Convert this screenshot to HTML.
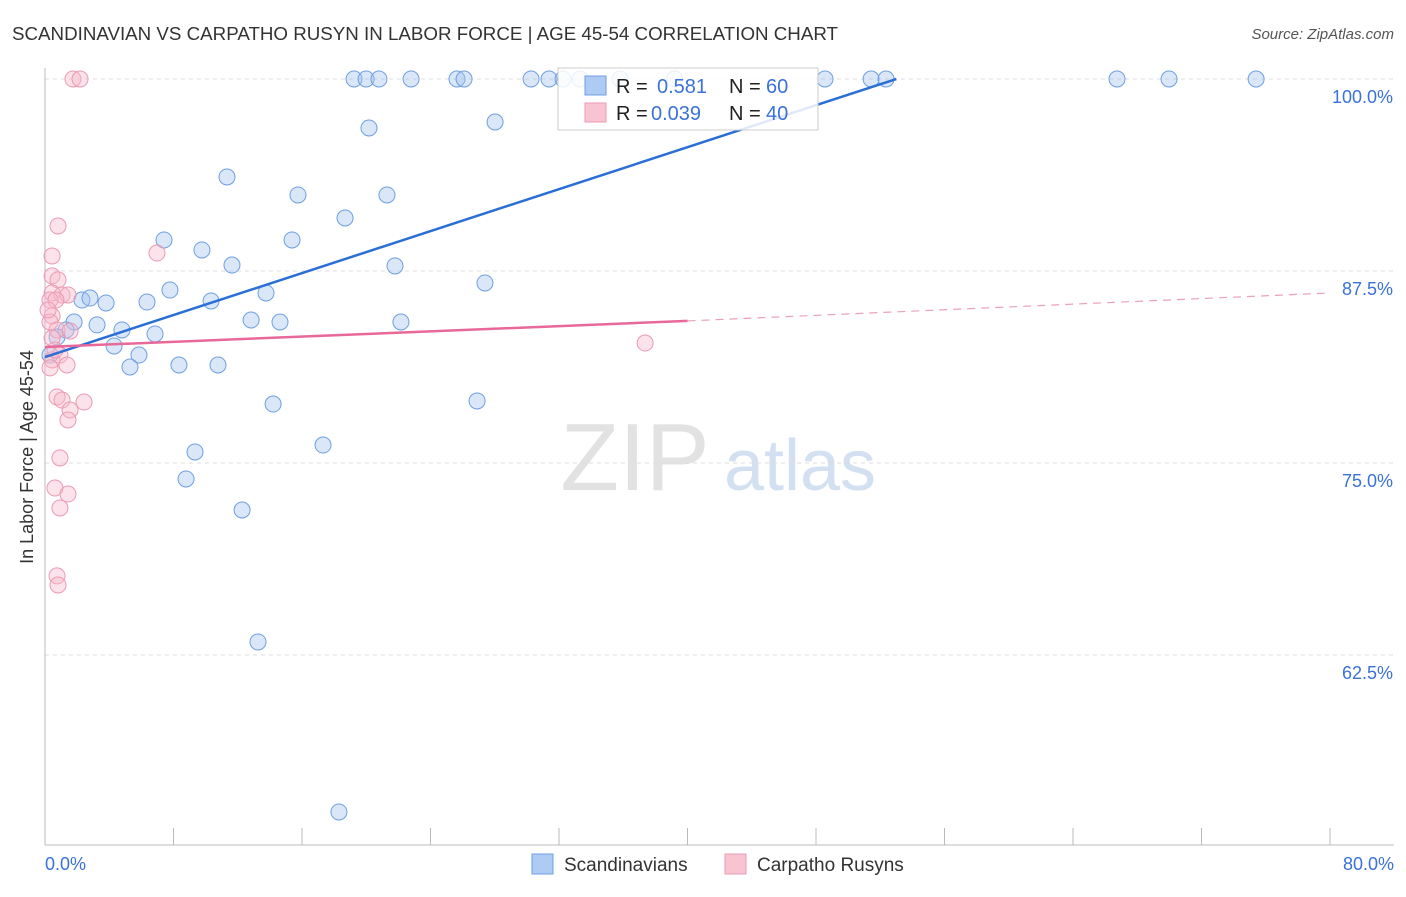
<!DOCTYPE html>
<html><head><meta charset="utf-8"><style>
body{margin:0;background:#fff;font-family:"Liberation Sans",sans-serif;}
svg text{font-family:"Liberation Sans",sans-serif;}
</style></head><body>
<svg id="chart" width="1406" height="892">
<text x="12" y="40" font-size="18" fill="#333" textLength="826" lengthAdjust="spacingAndGlyphs">SCANDINAVIAN VS CARPATHO RUSYN IN LABOR FORCE | AGE 45-54 CORRELATION CHART</text>
<text x="1394" y="39" font-size="15" fill="#555" font-style="italic" text-anchor="end">Source: ZipAtlas.com</text>
<text x="33" y="457" font-size="18" fill="#333" text-anchor="middle" transform="rotate(-90 33 457)">In Labor Force | Age 45-54</text>
<g><text x="635" y="490" font-size="96" fill="#e2e2e2" font-family="Liberation Serif" text-anchor="middle">ZIP</text><text x="800" y="490" font-size="72" fill="#d2e0f2" text-anchor="middle">atlas</text></g>
<g id="grid"></g><g id="axes"></g><g id="marks"></g>
<g>
<rect x="558" y="68" width="260" height="62" fill="#fff" fill-opacity="0.85" stroke="#ccc"/>
<rect x="585" y="76" width="21" height="19" fill="#aecbf3" stroke="#6f9fe0"/>
<rect x="585" y="103" width="21" height="19" fill="#f9c4d2" stroke="#eb9ab0"/>
<text x="616" y="93" font-size="20" fill="#222">R =</text><text x="657" y="93" font-size="20" fill="#3a72d8">0.581</text>
<text x="729" y="93" font-size="20" fill="#222">N =</text><text x="766" y="93" font-size="20" fill="#3a72d8">60</text>
<text x="616" y="120" font-size="20" fill="#222">R =</text><text x="651" y="120" font-size="20" fill="#3a72d8">0.039</text>
<text x="729" y="120" font-size="20" fill="#222">N =</text><text x="766" y="120" font-size="20" fill="#3a72d8">40</text>
</g>
<g>
<rect x="532" y="854" width="21" height="20" fill="#aecbf3" stroke="#6f9fe0"/>
<text x="564" y="871" font-size="19" fill="#333">Scandinavians</text>
<rect x="725" y="854" width="21" height="20" fill="#f9c4d2" stroke="#eb9ab0"/>
<text x="757" y="871" font-size="19" fill="#333">Carpatho Rusyns</text>
</g>
</svg>
<script>
const yTicks=[100,87.5,75,62.5];
const yTickLabels=["100.0%","87.5%","75.0%","62.5%"];
const blueX=[19.24,19.99,20.79,22.79,25.65,26.09,30.26,31.38,32.25,33.31,35.8,39.2,48.56,51.43,52.36,66.74,69.98,75.40,20.17,28.02,11.33,15.75,21.29,18.68,7.41,15.38,9.77,11.64,21.79,27.39,7.78,13.76,2.30,2.80,3.80,6.35,10.34,1.81,3.24,12.83,14.63,22.16,4.79,6.85,1.31,0.75,4.30,5.85,5.29,8.34,10.77,14.20,26.90,17.31,9.34,8.78,12.27,13.26,18.30,0.31];
const blueY=[100,100,100,100,100,100,100,100,100,100,100,100,100,100,100,100,100,100,96.81,97.20,93.62,92.45,92.45,90.95,89.52,89.52,88.87,87.89,87.83,86.72,86.26,86.07,85.61,85.74,85.42,85.48,85.55,84.18,83.99,84.31,84.18,84.18,83.66,83.40,83.66,83.20,82.62,82.03,81.25,81.38,81.38,78.84,79.04,76.17,75.72,73.96,71.94,63.35,52.28,82.03];
const pinkX=[1.74,2.18,0.81,0.44,6.97,0.44,0.81,0.44,1.06,1.43,0.31,0.68,0.44,0.31,0.75,1.56,0.44,0.93,0.44,1.37,0.31,37.36,0.75,2.43,1.06,1.56,1.43,0.93,0.62,1.43,0.93,0.75,0.81,0.19,0.62];
const pinkY=[100,100,90.43,88.48,88.67,87.18,86.92,86.07,85.94,85.94,85.61,85.61,84.57,84.18,83.66,83.59,83.14,82.03,81.71,81.38,81.19,82.81,79.30,78.97,79.10,78.45,77.80,75.33,73.37,72.98,72.07,67.65,67.06,84.96,82.36];
const blueTrend=[[0,81.9],[53.0,100]];
const pinkTrend=[[0,82.55],[40,84.25]];
const pinkTrendExt=[[40,84.25],[80,86.07]];
const NS="http://www.w3.org/2000/svg";
const xs=v=>45+v/80*1285;
const ys=v=>79+(100-v)/12.5*192;
function mk(t,a,p){const e=document.createElementNS(NS,t);for(const k in a)e.setAttribute(k,a[k]);p.appendChild(e);return e;}
const grid=document.getElementById('grid'),axes=document.getElementById('axes'),marks=document.getElementById('marks');
yTicks.forEach((t,i)=>{
 const l=mk('line',{x1:45,x2:1394,y1:ys(t),y2:ys(t),stroke:'#ddd','stroke-dasharray':'4,4'},grid);
 
 
 const tx=mk('text',{x:1393,y:ys(t)+24,'font-size':18,fill:'#3a72d8','text-anchor':'end'},axes);
 tx.textContent=yTickLabels[i];
 
 
});
mk('line',{x1:45,x2:45,y1:68,y2:845,stroke:'#bbb'},axes);
mk('line',{x1:45,x2:1394,y1:845,y2:845,stroke:'#bbb'},axes);
for(let i=0;i<=10;i++){const x=xs(i*8);const t=mk('line',{x1:x,x2:x,y1:828,y2:845,stroke:'#bbb'},axes);
 
 }
const x0=mk('text',{x:45,y:870,'font-size':18,fill:'#3a72d8'},axes);x0.textContent='0.0%';


const x1=mk('text',{x:1394,y:870,'font-size':18,fill:'#3a72d8','text-anchor':'end'},axes);x1.textContent='80.0%';


blueX.forEach((v,i)=>{const c=mk('circle',{cx:xs(v),cy:ys(blueY[i]),r:8,fill:'rgba(160,195,240,0.4)',stroke:'#6f9fe0','stroke-width':1},marks);
 
 });
pinkX.forEach((v,i)=>{const c=mk('circle',{cx:xs(v),cy:ys(pinkY[i]),r:8,fill:'rgba(248,185,205,0.4)',stroke:'#eb9ab0','stroke-width':1},marks);
 
 });
const bl=mk('line',{x1:xs(blueTrend[0][0]),y1:ys(blueTrend[0][1]),x2:xs(blueTrend[1][0]),y2:ys(blueTrend[1][1]),stroke:'#2a6fd6','stroke-width':2.5},marks);


const pl=mk('line',{x1:xs(pinkTrend[0][0]),y1:ys(pinkTrend[0][1]),x2:xs(pinkTrend[1][0]),y2:ys(pinkTrend[1][1]),stroke:'#e8689a','stroke-width':2.5},marks);


const pd=mk('line',{x1:xs(pinkTrendExt[0][0]),y1:ys(pinkTrendExt[0][1]),x2:xs(pinkTrendExt[1][0]),y2:ys(pinkTrendExt[1][1]),stroke:'#eba0ba','stroke-width':1.2,'stroke-dasharray':'8,6'},marks);


</script>
</body></html>
